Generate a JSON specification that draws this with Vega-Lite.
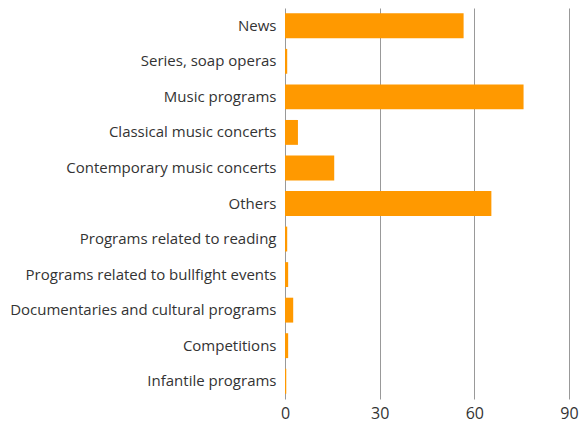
{
  "$schema": "https://vega.github.io/schema/vega-lite/v6.json",
  "autosize": {"type": "none"},
  "padding": {"left": 285, "top": 8, "right": 10, "bottom": 25},
  "width": 284,
  "height": 391,
  "background": "white",
  "data": {"values": [
    {"category": "News", "value": 56.6},
    {"category": "Series, soap operas", "value": 0.7},
    {"category": "Music programs", "value": 75.6},
    {"category": "Classical music concerts", "value": 4.1},
    {"category": "Contemporary music concerts", "value": 15.6},
    {"category": "Others", "value": 65.4},
    {"category": "Programs related to reading", "value": 0.7},
    {"category": "Programs related to bullfight events", "value": 1.0},
    {"category": "Documentaries and cultural programs", "value": 2.6},
    {"category": "Competitions", "value": 1.0},
    {"category": "Infantile programs", "value": 0.4}
  ]},
  "mark": {"type": "bar", "color": "#FF9900"},
  "encoding": {
    "y": {
      "field": "category", "type": "nominal", "sort": null, "title": null,
      "scale": {"paddingInner": 0.3, "paddingOuter": 0.15},
      "axis": {"domain": false, "ticks": false, "labelPadding": 9, "labelFont": "Open Sans", "labelFontSize": 15, "labelColor": "#333333", "labelLimit": 300}
    },
    "x": {
      "field": "value", "type": "quantitative", "title": null,
      "scale": {"domain": [0, 90], "nice": false},
      "axis": {"values": [0, 30, 60, 90], "domain": false, "ticks": false, "grid": true, "gridColor": "#999999", "gridWidth": 1, "labelPadding": 6, "labelFont": "Open Sans", "labelFontSize": 16, "labelColor": "#333333", "labelFlush": false}
    }
  },
  "config": {"view": {"stroke": null}}
}
